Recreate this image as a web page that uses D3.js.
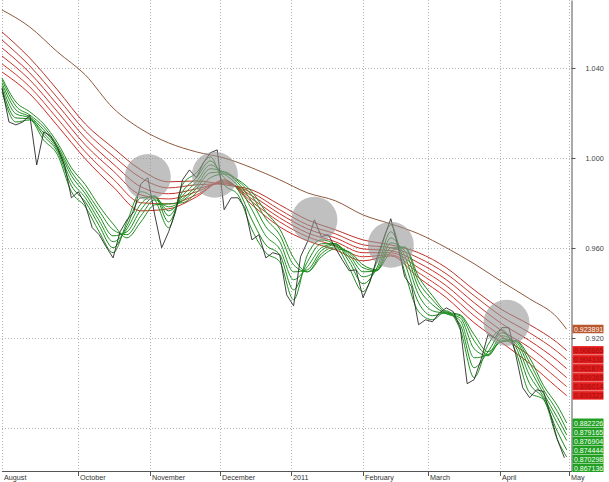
<!DOCTYPE html>
<html><head><meta charset="utf-8">
<script src="https://cdn.jsdelivr.net/npm/d3@7"></script>
<style>
body{margin:0;background:#fff}
svg{display:block}
text{font-family:"Liberation Sans",Arial,sans-serif}
</style>
</head><body>
<svg id="chart" width="609" height="482"></svg>
<script>
// ---------- DATA ----------
const priceDates = ["2010-08-29","2010-09-01","2010-09-04","2010-09-07","2010-09-10","2010-09-13","2010-09-16","2010-09-19","2010-09-22","2010-09-25","2010-09-28","2010-10-01","2010-10-04","2010-10-07","2010-10-10","2010-10-13","2010-10-16","2010-10-19","2010-10-22","2010-10-25","2010-10-28","2010-10-31","2010-11-03","2010-11-06","2010-11-09","2010-11-12","2010-11-15","2010-11-18","2010-11-21","2010-11-24","2010-11-27","2010-11-30","2010-12-03","2010-12-06","2010-12-09","2010-12-12","2010-12-15","2010-12-18","2010-12-21","2010-12-24","2010-12-27","2010-12-30","2011-01-02","2011-01-05","2011-01-08","2011-01-11","2011-01-14","2011-01-17","2011-01-20","2011-01-23","2011-01-26","2011-01-29","2011-02-01","2011-02-04","2011-02-07","2011-02-10","2011-02-13","2011-02-16","2011-02-19","2011-02-22","2011-02-25","2011-02-28","2011-03-03","2011-03-06","2011-03-09","2011-03-12","2011-03-15","2011-03-18","2011-03-21","2011-03-24","2011-03-27","2011-03-30","2011-04-02","2011-04-05","2011-04-08","2011-04-11","2011-04-14","2011-04-17","2011-04-20","2011-04-23","2011-04-26","2011-04-29"];
const price = [1.0311,1.0160,1.0147,1.0160,1.0191,0.9969,1.0116,1.0098,1.0045,0.9969,0.9823,0.9850,0.9792,0.9690,0.9659,0.9605,0.9556,0.9672,0.9725,0.9761,0.9885,0.9912,0.9747,0.9601,0.9672,0.9761,0.9903,0.9947,0.9912,0.9978,1.0023,1.0036,0.9770,0.9823,0.9823,0.9778,0.9636,0.9659,0.9556,0.9579,0.9570,0.9392,0.9343,0.9561,0.9628,0.9725,0.9650,0.9659,0.9601,0.9548,0.9499,0.9503,0.9379,0.9450,0.9556,0.9645,0.9730,0.9610,0.9472,0.9428,0.9259,0.9281,0.9272,0.9312,0.9334,0.9317,0.9246,0.8997,0.9015,0.9104,0.9215,0.9201,0.9246,0.9246,0.9126,0.8979,0.8935,0.8970,0.8962,0.8859,0.8748,0.8668];

const maDates = ["2010-08-29","2010-09-04","2010-09-10","2010-09-16","2010-09-22","2010-09-28","2010-10-04","2010-10-10","2010-10-16","2010-10-22","2010-10-28","2010-11-03","2010-11-09","2010-11-15","2010-11-21","2010-11-27","2010-12-03","2010-12-09","2010-12-15","2010-12-21","2010-12-27","2011-01-02","2011-01-08","2011-01-14","2011-01-20","2011-01-26","2011-02-01","2011-02-07","2011-02-13","2011-02-19","2011-02-25","2011-03-03","2011-03-09","2011-03-15","2011-03-21","2011-03-27","2011-04-02","2011-04-08","2011-04-14","2011-04-20","2011-04-26","2011-04-30"];
const green1 = [1.0294,1.0160,1.0169,1.0080,1.0014,0.9850,0.9783,0.9672,0.9579,0.9716,0.9850,0.9814,0.9690,0.9881,0.9934,1.0005,0.9881,0.9836,0.9681,0.9579,0.9539,0.9370,0.9570,0.9636,0.9614,0.9512,0.9406,0.9539,0.9703,0.9494,0.9317,0.9281,0.9321,0.9237,0.9024,0.9170,0.9237,0.9139,0.8957,0.8926,0.8748,0.867136];
const green2 = [1.0307,1.0178,1.0174,1.0098,1.0027,0.9876,0.9805,0.9699,0.9601,0.9699,0.9823,0.9827,0.9716,0.9850,0.9912,0.9987,0.9912,0.9858,0.9725,0.9614,0.9570,0.9414,0.9539,0.9619,0.9619,0.9539,0.9441,0.9512,0.9672,0.9534,0.9357,0.9299,0.9312,0.9259,0.9068,0.9139,0.9223,0.9161,0.8997,0.8930,0.8784,0.870298];
const green3 = [1.0320,1.0196,1.0178,1.0111,1.0036,0.9898,0.9823,0.9721,0.9628,0.9685,0.9796,0.9832,0.9743,0.9832,0.9894,0.9969,0.9929,0.9876,0.9770,0.9654,0.9596,0.9459,0.9517,0.9601,0.9619,0.9556,0.9472,0.9503,0.9645,0.9565,0.9392,0.9321,0.9308,0.9277,0.9112,0.9126,0.9210,0.9175,0.9033,0.8939,0.8819,0.874444];
const green4 = [1.0333,1.0214,1.0183,1.0125,1.0045,0.9921,0.9841,0.9743,0.9654,0.9672,0.9770,0.9827,0.9765,0.9818,0.9876,0.9952,0.9938,0.9889,0.9805,0.9694,0.9628,0.9494,0.9503,0.9588,0.9614,0.9570,0.9494,0.9499,0.9623,0.9588,0.9423,0.9348,0.9308,0.9290,0.9152,0.9121,0.9197,0.9184,0.9064,0.8953,0.8846,0.876904];
const green5 = [1.0347,1.0231,1.0191,1.0138,1.0054,0.9938,0.9858,0.9765,0.9681,0.9659,0.9743,0.9814,0.9783,0.9810,0.9863,0.9934,0.9938,0.9898,0.9832,0.9730,0.9659,0.9525,0.9494,0.9574,0.9605,0.9579,0.9512,0.9499,0.9601,0.9601,0.9450,0.9370,0.9312,0.9299,0.9188,0.9126,0.9188,0.9188,0.9090,0.8970,0.8873,0.879165];
const green6 = [1.0356,1.0249,1.0205,1.0151,1.0067,0.9956,0.9881,0.9787,0.9707,0.9645,0.9716,0.9792,0.9796,0.9801,0.9845,0.9912,0.9929,0.9903,0.9850,0.9761,0.9685,0.9556,0.9494,0.9561,0.9596,0.9583,0.9525,0.9503,0.9583,0.9605,0.9472,0.9388,0.9317,0.9303,0.9215,0.9139,0.9184,0.9188,0.9112,0.8988,0.8899,0.882226];

const longDates = ["2010-08-29","2010-09-10","2010-09-22","2010-10-04","2010-10-16","2010-10-28","2010-11-09","2010-11-21","2010-12-03","2010-12-15","2010-12-27","2011-01-08","2011-01-20","2011-02-01","2011-02-13","2011-02-25","2011-03-09","2011-03-21","2011-04-02","2011-04-14","2011-04-26","2011-04-30"];
const red1 = [1.0382,1.0285,1.0143,0.9996,0.9872,0.9765,0.9774,0.9827,0.9903,0.9792,0.9694,0.9632,0.9592,0.9543,0.9565,0.9468,0.9379,0.9268,0.9179,0.9086,0.8979,0.8944];
const red2 = [1.0418,1.0316,1.0174,1.0027,0.9907,0.9801,0.9796,0.9836,0.9898,0.9805,0.9716,0.9650,0.9610,0.9561,0.9570,0.9490,0.9406,0.9299,0.9206,0.9121,0.9019,0.8984];
const red3 = [1.0453,1.0347,1.0205,1.0058,0.9943,0.9836,0.9818,0.9850,0.9894,0.9818,0.9734,0.9667,0.9628,0.9579,0.9579,0.9512,0.9432,0.9326,0.9232,0.9157,0.9059,0.9024];
const red4 = [1.0489,1.0378,1.0236,1.0089,0.9974,0.9872,0.9841,0.9863,0.9889,0.9832,0.9752,0.9685,0.9645,0.9596,0.9588,0.9534,0.9459,0.9357,0.9263,0.9188,0.9099,0.9064];
const red5 = [1.0524,1.0409,1.0267,1.0120,1.0009,0.9912,0.9867,0.9881,0.9885,0.9845,0.9770,0.9703,0.9663,0.9614,0.9601,0.9556,0.9485,0.9388,0.9295,0.9223,0.9139,0.9104];
const red6 = [1.0560,1.0444,1.0302,1.0151,1.0045,0.9947,0.9894,0.9898,0.9881,0.9858,0.9792,0.9725,0.9681,0.9636,0.9614,0.9579,0.9512,0.9414,0.9326,0.9259,0.9179,0.9144];
const brown = [1.0658,1.0582,1.0471,1.0369,1.0222,1.0129,1.0067,1.0027,1.0000,0.9956,0.9903,0.9845,0.9810,0.9747,0.9707,0.9663,0.9601,0.9530,0.9450,0.9374,0.9290,0.923891];

const xTickDates = ["2010-08-29","2010-10-01","2010-11-01","2010-12-01","2011-01-01","2011-02-01","2011-03-01","2011-04-01","2011-05-01"];
const xTickLabels = ["August","October","November","December","2011","February","March","April","May"];
const yGrid = [0.88,0.92,0.96,1.00,1.04];
const yTicks = [0.92,0.96,1.00,1.04];
const yTickLabels = ["0.920","0.960","1.000","1.040"];

const circleDates = ["2010-10-31","2010-11-29","2011-01-11","2011-02-13","2011-04-04"];
const circleValues = [0.9916,0.9925,0.9725,0.9614,0.9268];

const brownLabel = "0.923891";
const redLabels = ["0.908865","0.904336","0.901874","0.899368","0.896014","0.893323"];
const greenLabels = ["0.882226","0.879165","0.876904","0.874444","0.870298","0.867136"];

// ---------- CHART ----------
const parse = d3.utcParse("%Y-%m-%d");
const svg = d3.select("#chart");
const x = d3.scaleUtc().domain([parse("2010-08-29"), parse("2011-05-01")]).range([2, 569]);
const y = d3.scaleLinear().domain([0.8609, 1.0702]).range([471, 0]);
const axisX = 571, axisY = 471;

// grid
const grid = svg.append("g").attr("stroke", "#b4b4b4").attr("stroke-dasharray", "1,2").attr("stroke-width", 1);
xTickDates.forEach(d => {
  const px = Math.round(x(parse(d))) + 0.5;
  grid.append("line").attr("x1", px).attr("x2", px).attr("y1", 0).attr("y2", axisY);
});
yGrid.forEach(v => {
  const py = Math.round(y(v)) + 0.5;
  grid.append("line").attr("x1", 2).attr("x2", axisX).attr("y1", py).attr("y2", py);
});

function drawLine(dates, vals, color, width, curve) {
  const pts = dates.map((d, i) => [parse(d), vals[i]]);
  svg.append("path").datum(pts)
    .attr("fill", "none").attr("stroke", color).attr("stroke-width", width)
    .attr("stroke-linejoin", "round")
    .attr("d", d3.line().x(d => x(d[0])).y(d => y(d[1])).curve(curve));
}

const mono = d3.curveMonotoneX;
drawLine(longDates, brown, "#8e5a3e", 1, mono);
const reds = [red6, red5, red4, red3, red2, red1];
const redCols = ["#b8322a", "#c23a2e", "#c92f28", "#c8352c", "#d23a30", "#cc2b25"];
reds.forEach((r, i) => drawLine(longDates, r, redCols[i], 1, mono));
const greens = [green6, green5, green4, green3, green2, green1];
const greenCols = ["#1f8a1f", "#239223", "#1d8c1d", "#24962a", "#1b871b", "#209020"];
greens.forEach((g, i) => drawLine(maDates, g, greenCols[i], 1, mono));
drawLine(priceDates, price, "#2a2a2a", 0.9, d3.curveLinear);

// grey highlight circles
svg.append("g").selectAll("circle").data(circleDates).join("circle")
  .attr("cx", d => x(parse(d)))
  .attr("cy", (d, i) => y(circleValues[i]))
  .attr("r", 23)
  .attr("fill", "#969696").attr("fill-opacity", 0.6);

// right axis
const ay = svg.append("g").attr("transform", `translate(${axisX + 0.5},0)`)
  .call(d3.axisRight(y).tickValues(yTicks).tickSize(4).tickSizeOuter(0).tickPadding(10)
    .tickFormat((d, i) => yTickLabels[i]));
ay.select(".domain").attr("stroke", "#555");
ay.selectAll(".tick line").attr("stroke", "#555");
ay.selectAll(".tick text").attr("fill", "#444").style("font-size", "7.3px")
  .style("font-family", '"Liberation Sans",Arial,sans-serif');

// bottom axis
svg.append("line").attr("x1", 2).attr("x2", axisX + 1).attr("y1", axisY + 0.5).attr("y2", axisY + 0.5)
  .attr("stroke", "#555");
const bx = svg.append("g");
xTickDates.forEach((d, i) => {
  const px = Math.round(x(parse(d))) + 0.5;
  if (i > 0) bx.append("line").attr("x1", px).attr("x2", px).attr("y1", axisY + 1).attr("y2", axisY + 5).attr("stroke", "#555");
  bx.append("text").attr("x", px + 1.5).attr("y", 480).attr("fill", "#333")
    .style("font-size", "7.2px").text(xTickLabels[i]);
});

// value label boxes (stacked so they do not overlap)
const items = [];
items.push({v: brown[brown.length - 1], t: brownLabel, fill: "#b8572e", tc: "#fff4ee"});
reds.forEach((r, i) => items.push({v: r[r.length - 1], t: redLabels[i], fill: "#e21d1d", tc: "#a30c0c"}));
greens.forEach((g, i) => items.push({v: g[g.length - 1], t: greenLabels[i], fill: "#23a023", tc: "#f2fff2"}));
items.sort((a, b) => b.v - a.v);
const bh = 9;
let prevBottom = -Infinity;
items.forEach(it => {
  let top = y(it.v) - bh / 2;
  if (top < prevBottom) top = prevBottom;
  prevBottom = top + bh;
  svg.append("rect").attr("x", axisX + 1.5).attr("y", top).attr("width", 31).attr("height", bh - 0.5)
    .attr("fill", it.fill);
  svg.append("text").attr("x", axisX + 3).attr("y", top + 7).attr("fill", it.tc)
    .style("font-size", "7px").text(it.t);
});
</script>
</body></html>
